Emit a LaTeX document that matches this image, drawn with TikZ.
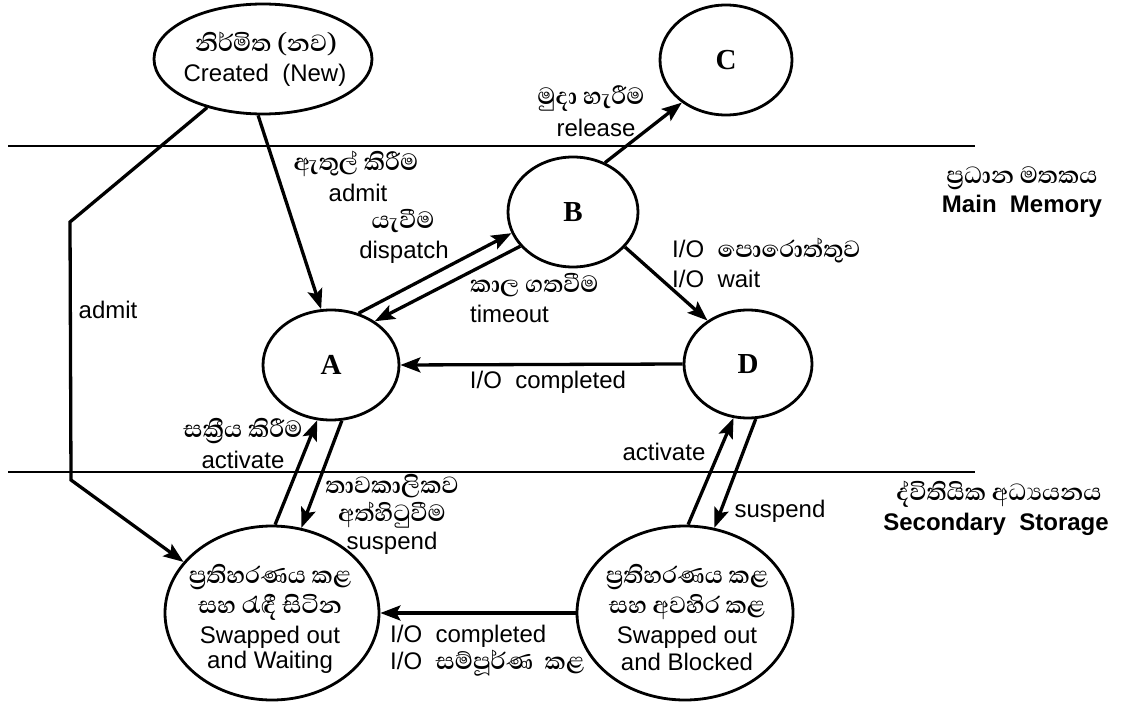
\documentclass[tikz,border=0pt]{standalone}
\usepackage{fontspec}
\setmainfont{Liberation Sans}
\newfontfamily\sinhfnt[Script=Sinhala]{Abhaya Libre}
\newfontfamily\serifb{Liberation Serif}
\usetikzlibrary{shapes.geometric,arrows.meta}
\newcommand\sinsz{\fontsize{30}{33}\selectfont\sinhfnt\bfseries}
\begin{document}
\begin{tikzpicture}[x=1pt,y=-1pt,
  st/.style={ellipse, draw, line width=2.8pt, inner sep=0pt},
  arr/.style={line width=3.3pt, -{Stealth[length=20pt,width=15pt,inset=4pt]}},
  lat/.style={font=\fontsize{24}{28}\selectfont, inner sep=0pt},
  latb/.style={font=\fontsize{24}{28}\selectfont\bfseries, inner sep=0pt},
  sin/.style={font=\sinsz, inner sep=0pt, text height=13pt, text depth=4pt},
  letter/.style={font=\fontsize{29}{30}\selectfont\serifb\bfseries},
  sepline/.style={line width=2pt}]
\useasboundingbox (0,0) rectangle (1124,703);
\fill[white] (0,0) rectangle (1124,703);
% separators
\coordinate (t1) at (8,146); \coordinate (t2) at (975,146);
\coordinate (u1) at (8,472); \coordinate (u2) at (975,472);
\draw[sepline] (t1) -- (t2);
\draw[sepline] (u1) -- (u2);
% states
\node[st, minimum width=218pt, minimum height=110pt] (cr) at (263,59) {};
\node[st, minimum width=132pt, minimum height=110pt, letter] (C) at (726,60) {C};
\node[st, minimum width=130pt, minimum height=110pt, letter] (B) at (573,212) {B};
\node[st, minimum width=136pt, minimum height=110pt, letter] (A) at (331,365) {A};
\node[st, minimum width=128pt, minimum height=108pt, letter] (D) at (748,364) {D};
\node[st, minimum width=214pt, minimum height=174pt] (sw) at (272,613) {};
\node[st, minimum width=216pt, minimum height=174pt] (sb) at (685,613) {};
% texts in ellipses
\node[sin] (cr1) at (266,47) {නිර්මිත (නව)};
\node[lat] (cr2) at (265,75) {Created\ \ (New)};
\node[sin] (sw1) at (270,579) {ප්‍රතිහරණය කළ};
\node[sin] (sw2) at (270,609) {සහ රැඳී සිටින};
\node[lat] (sw3) at (270,637) {Swapped out};
\node[lat] (sw4) at (270,662) {and Waiting};
\node[sin] (sb1) at (687,579) {ප්‍රතිහරණය කළ};
\node[sin] (sb2) at (687,609) {සහ අවහිර කළ};
\node[lat] (sb3) at (687,637) {Swapped out};
\node[lat] (sb4) at (687,662) {and Blocked};
% arrows
\coordinate (b1) at (70,222);
\coordinate (b2) at (71,480);
\draw[arr] (cr.-95) -- (A.100);
\draw[arr] (cr.-139) -- (b1) -- (b2) -- (sw.150);
\draw[arr] (A.62) -- (B.199);
\draw[arr] (B.213) -- (A.45);
\draw[arr] (B.57) -- (C.224);
\draw[arr] (B.-34) -- (D.133);
\draw[arr] (D.180) -- (A.0);
\draw[arr] (A.-79) -- (sw.71);
\draw[arr] (sw.88) -- (A.-104);
\draw[arr] (sb.88) -- (D.-105);
\draw[arr] (D.-82) -- (sb.71);
\draw[arr] (sb.180) -- (sw.0);
% labels
\node[sin] (l1) at (356,166) {ඇතුල් කිරීම};
\node[lat] (l2) at (358,193) {admit};
\node[sin] (l3) at (403,224) {යැවීම};
\node[lat] (l4) at (404,252) {dispatch};
\node[sin, anchor=west] (l5) at (470,288) {කාල ගතවීම};
\node[lat, anchor=west] (l6) at (470,314) {timeout};
\node[lat] (l7) at (548,382) {I/O\ \ completed};
\node[sin] (l8) at (591,100) {මුදා හැරීම};
\node[lat] (l9) at (596,128) {release};
\node[lat, anchor=west] (l10) at (672,251) {I/O\ \ {\sinsz පොරොත්තුව}};
\node[lat, anchor=west] (l11) at (672,279) {I/O\ \ wait};
\node[lat] (l12) at (108,310) {admit};
\node[sin] (l13) at (1022,179) {ප්‍රධාන මතකය};
\node[latb] (l14) at (1022,206) {Main\ \ Memory};
\node[sin] (l15) at (999,496) {ද්විතියික අධ්‍යයනය};
\node[latb] (l16) at (996,524) {Secondary\ \ Storage};
\node[sin] (l17) at (243,433) {සක්‍රීය කිරීම};
\node[lat] (l18) at (243,460) {activate};
\node[sin] (l19) at (392,489) {තාවකාලිකව};
\node[sin] (l20) at (392,517) {අත්හිටුවීම};
\node[lat] (l21) at (392,543) {suspend};
\node[lat] (l22) at (664,452) {activate};
\node[lat] (l23) at (780,511) {suspend};
\node[lat, anchor=west] (l24) at (390,636) {I/O\ \ completed};
\node[lat, anchor=west] (l25) at (390,663) {I/O\ \ {\sinsz සම්පූර්ණ\ \ කළ}};
\end{tikzpicture}
\end{document}
